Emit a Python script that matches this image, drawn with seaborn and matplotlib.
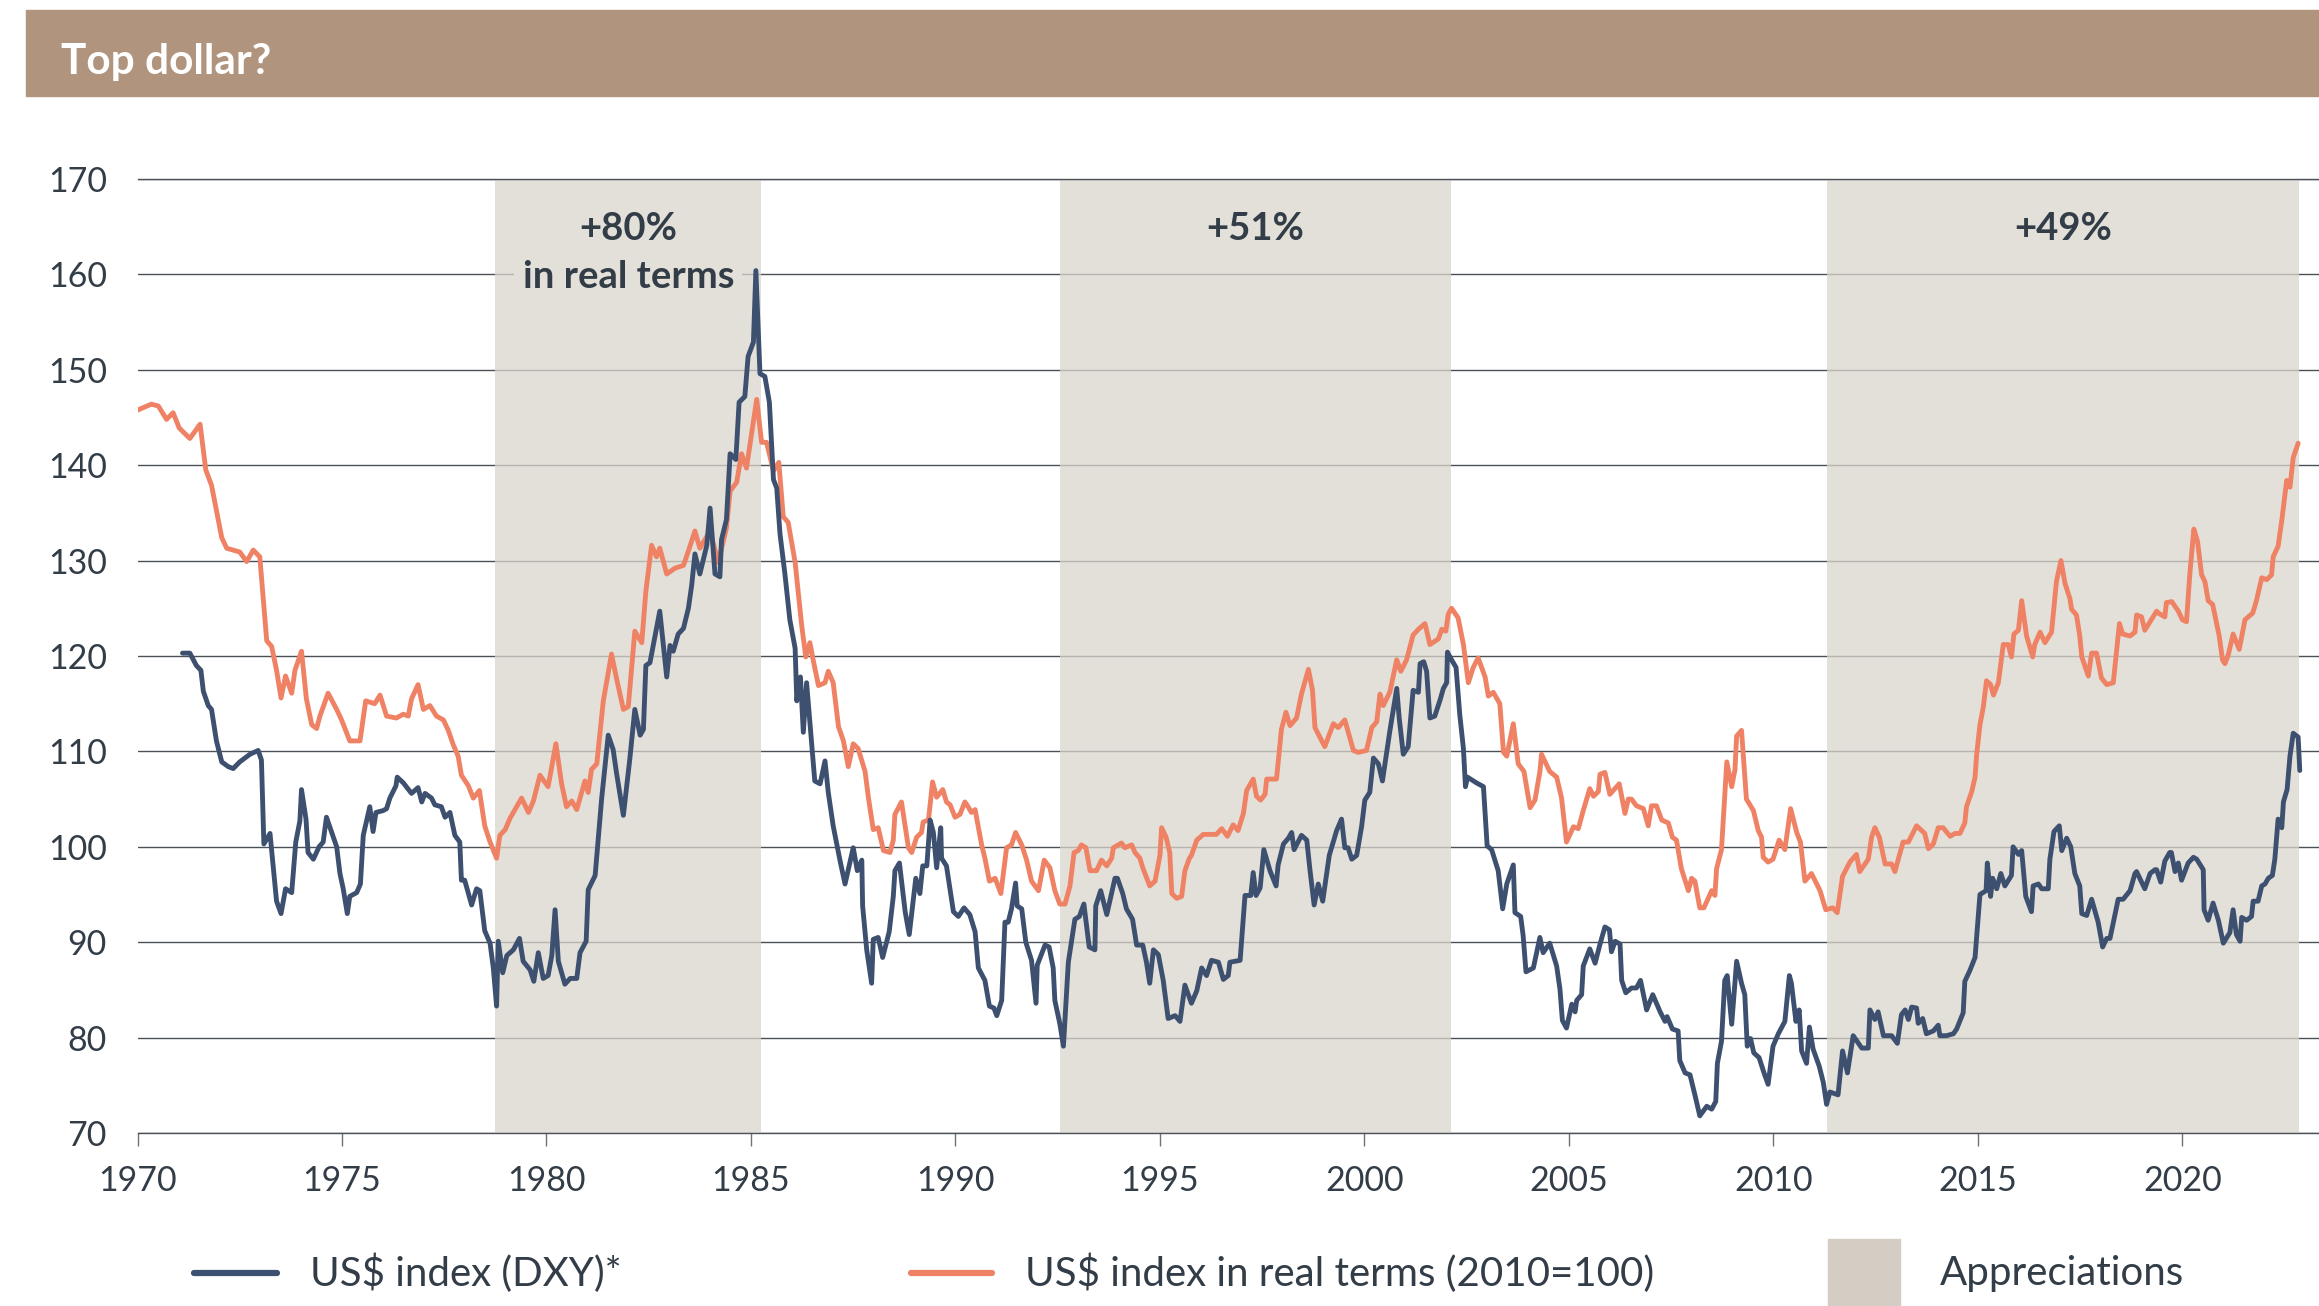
import numpy as np
import pandas as pd
import matplotlib.pyplot as plt
import seaborn as sns
from matplotlib.lines import Line2D
from matplotlib.patches import Rectangle

# US$ index (DXY)
dxy_year = [
    1971.10, 1971.28, 1971.44, 1971.55, 1971.61, 1971.73, 1971.81, 1971.93, 1972.06, 1972.22,
    1972.34, 1972.50, 1972.75, 1972.95, 1973.03, 1973.09, 1973.24, 1973.40, 1973.51, 1973.62,
    1973.77, 1973.87, 1973.97, 1974.01, 1974.12, 1974.17, 1974.30, 1974.44, 1974.54, 1974.62,
    1974.87, 1974.95, 1975.03, 1975.13, 1975.19, 1975.36, 1975.45, 1975.52, 1975.68, 1975.76,
    1975.83, 1976.01, 1976.09, 1976.17, 1976.32, 1976.35, 1976.50, 1976.70, 1976.86, 1976.95,
    1977.03, 1977.19, 1977.27, 1977.43, 1977.52, 1977.64, 1977.76, 1977.88, 1977.92, 1978.00,
    1978.17, 1978.29, 1978.37, 1978.49, 1978.62, 1978.70, 1978.78,
    1978.82, 1978.93, 1979.03, 1979.19, 1979.34, 1979.43, 1979.60, 1979.69, 1979.80, 1979.92,
    1980.04, 1980.13, 1980.21, 1980.29, 1980.45, 1980.58, 1980.74, 1980.82, 1980.97, 1981.02,
    1981.19, 1981.35, 1981.51, 1981.63, 1981.71, 1981.88, 1982.04, 1982.16, 1982.29, 1982.37,
    1982.43, 1982.53, 1982.77, 1982.94, 1983.02, 1983.10, 1983.22, 1983.35, 1983.47, 1983.55,
    1983.63, 1983.75, 1983.92, 1984.00, 1984.12, 1984.24, 1984.28, 1984.40, 1984.49, 1984.63,
    1984.71, 1984.85, 1984.93, 1985.06, 1985.12, 1985.22, 1985.34, 1985.45, 1985.55, 1985.63,
    1985.71, 1985.83, 1985.95, 1986.08, 1986.12, 1986.21, 1986.28, 1986.36, 1986.56, 1986.69,
    1986.81, 1986.89, 1987.01, 1987.18, 1987.30, 1987.38,
    1987.50, 1987.60, 1987.71, 1987.73, 1987.83, 1987.95, 1987.99, 1988.11, 1988.22, 1988.38,
    1988.48, 1988.52, 1988.63, 1988.77, 1988.87, 1989.03, 1989.13, 1989.20, 1989.30, 1989.38,
    1989.46, 1989.54, 1989.64, 1989.66, 1989.78, 1989.95, 1990.07, 1990.21, 1990.35, 1990.48,
    1990.56, 1990.72, 1990.83, 1990.94, 1991.01, 1991.13, 1991.21, 1991.29, 1991.37, 1991.47,
    1991.51, 1991.62, 1991.72, 1991.86, 1991.97, 1992.00, 1992.19, 1992.29, 1992.39, 1992.43,
    1992.55, 1992.64, 1992.76, 1992.92, 1993.03, 1993.14, 1993.21, 1993.27, 1993.41, 1993.43,
    1993.55, 1993.70, 1993.90, 1993.96, 1994.09, 1994.18, 1994.33, 1994.43, 1994.58, 1994.67,
    1994.75, 1994.84, 1994.96, 1995.08, 1995.20, 1995.37, 1995.49, 1995.61, 1995.77, 1995.90,
    1996.02, 1996.14, 1996.26, 1996.43,
    1996.55, 1996.67, 1996.71, 1996.96, 1997.08, 1997.22, 1997.28, 1997.35, 1997.45, 1997.54,
    1997.69, 1997.84, 1997.89, 1998.02, 1998.14, 1998.22, 1998.28, 1998.46, 1998.59, 1998.67,
    1998.77, 1998.87, 1998.98, 1999.14, 1999.32, 1999.44, 1999.52, 1999.60, 1999.69, 1999.81,
    1999.93, 2000.01, 2000.13, 2000.22, 2000.34, 2000.44, 2000.62, 2000.79, 2000.85, 2000.95,
    2001.07, 2001.19, 2001.32, 2001.36, 2001.45, 2001.52, 2001.60, 2001.72, 2001.85, 2001.93,
    2002.01, 2002.03, 2002.13, 2002.24, 2002.33, 2002.42, 2002.47, 2002.52, 2002.74, 2002.91,
    2003.00, 2003.11, 2003.27, 2003.38, 2003.48, 2003.64, 2003.68, 2003.82, 2003.88, 2003.95,
    2004.13, 2004.29, 2004.37, 2004.53, 2004.70, 2004.78, 2004.84, 2004.94, 2005.07, 2005.15,
    2005.19,
    2005.31, 2005.35, 2005.51, 2005.64, 2005.76, 2005.88, 2005.99, 2006.04, 2006.13, 2006.25,
    2006.29, 2006.39, 2006.53, 2006.65, 2006.75, 2006.90, 2007.05, 2007.23, 2007.35, 2007.40,
    2007.53, 2007.67, 2007.71, 2007.84, 2007.96, 2008.08, 2008.20, 2008.37, 2008.49, 2008.59,
    2008.63, 2008.73, 2008.81, 2008.87, 2008.98, 2009.10, 2009.22, 2009.30, 2009.36, 2009.44,
    2009.52, 2009.65, 2009.77, 2009.87, 2009.99, 2010.12, 2010.28, 2010.39, 2010.44, 2010.55,
    2010.63, 2010.69, 2010.81, 2010.88, 2010.97, 2011.12, 2011.22, 2011.30, 2011.38, 2011.58,
    2011.69, 2011.81, 2011.95, 2012.16, 2012.32, 2012.36, 2012.48, 2012.56, 2012.69, 2012.89,
    2013.03, 2013.13, 2013.22, 2013.30, 2013.38,
    2013.50, 2013.54, 2013.65, 2013.74, 2013.91, 2014.03, 2014.07, 2014.23, 2014.40, 2014.48,
    2014.64, 2014.68, 2014.80, 2014.93, 2015.05, 2015.20, 2015.23, 2015.31, 2015.36, 2015.46,
    2015.56, 2015.66, 2015.82, 2015.86, 2015.99, 2016.07, 2016.17, 2016.31, 2016.35, 2016.48,
    2016.56, 2016.72, 2016.76, 2016.86, 2016.99, 2017.05, 2017.17, 2017.27, 2017.37, 2017.49,
    2017.54, 2017.66, 2017.78, 2017.94, 2018.05, 2018.15, 2018.23, 2018.43, 2018.55, 2018.72,
    2018.84, 2018.88, 2019.08, 2019.21, 2019.33, 2019.37, 2019.47, 2019.57, 2019.69, 2019.73,
    2019.82, 2019.90, 2019.98, 2020.14, 2020.27, 2020.35, 2020.51, 2020.53, 2020.63, 2020.75,
    2020.88, 2021.00, 2021.16, 2021.24, 2021.32, 2021.41, 2021.45, 2021.57, 2021.69, 2021.73,
    2021.85, 2021.94, 2022.02, 2022.10, 2022.20, 2022.26, 2022.34, 2022.43, 2022.47, 2022.56,
    2022.63, 2022.71, 2022.83, 2022.87,
]
dxy_value = [
    120.3, 120.3, 119.0, 118.5, 116.3, 114.8, 114.4, 111.1, 108.9, 108.4,
    108.2, 108.9, 109.7, 110.1, 109.1, 100.3, 101.4, 94.3, 93.0, 95.6,
    95.2, 100.5, 102.7, 106.0, 102.9, 99.4, 98.7, 100.0, 100.5, 103.1,
    100.0, 97.2, 95.6, 93.0, 94.8, 95.2, 96.1, 101.2, 104.2, 101.6,
    103.6, 103.8, 104.0, 105.1, 106.4, 107.3, 106.7, 105.6, 106.2, 104.7,
    105.6, 105.1, 104.4, 104.2, 103.1, 103.6, 101.2, 100.5, 96.5, 96.5,
    93.9, 95.6, 95.4, 91.2, 89.9, 87.3, 83.3,
    90.1, 86.8, 88.6, 89.2, 90.4, 88.0, 87.1, 85.9, 88.9, 86.2,
    86.5, 88.6, 93.4, 88.0, 85.6, 86.2, 86.2, 88.9, 90.1, 95.5,
    97.0, 105.1, 111.7, 110.2, 107.8, 103.3, 109.3, 114.4, 111.7, 112.3,
    119.0, 119.3, 124.7, 117.8, 121.1, 120.5, 122.3, 122.9, 125.0, 127.4,
    130.7, 128.6, 131.6, 135.5, 128.6, 128.3, 132.2, 134.3, 141.2, 140.6,
    146.6, 147.2, 151.4, 152.9, 160.4, 149.6, 149.3, 146.6, 138.5, 137.6,
    132.8, 128.6, 123.8, 120.8, 115.3, 117.8, 112.0, 117.2, 106.9, 106.6,
    109.0, 105.7, 102.2, 98.5, 96.1, 97.6,
    99.9, 97.5, 98.6, 93.8, 89.2, 85.7, 90.3, 90.5, 88.4, 91.1,
    94.8, 97.5, 98.3, 93.2, 90.8, 96.7, 95.1, 98.0, 98.0, 102.8,
    101.5, 97.8, 102.0, 98.8, 98.0, 93.2, 92.7, 93.6, 92.9, 91.1,
    87.3, 86.0, 83.3, 83.1, 82.3, 83.9, 92.1, 92.1, 93.5, 96.2,
    93.8, 93.5, 90.0, 88.1, 83.6, 87.6, 89.7, 89.5, 87.3, 83.9,
    81.5, 79.1, 87.9, 92.4, 92.7, 94.0, 91.6, 89.5, 89.2, 93.8,
    95.4, 92.9, 96.7, 96.7, 95.1, 93.5, 92.4, 89.7, 89.7, 87.9,
    85.7, 89.2, 88.7, 86.0, 82.0, 82.3, 81.7, 85.5, 83.6, 84.9,
    87.3, 86.5, 88.1, 87.9,
    86.1, 86.5, 87.9, 88.1, 94.9, 94.9, 97.3, 94.9, 95.7, 99.7,
    97.5, 95.9, 98.1, 100.3, 100.9, 101.5, 99.7, 101.2, 100.7, 97.5,
    93.9, 96.1, 94.3, 99.1, 101.7, 102.9, 99.9, 99.9, 98.7, 99.1,
    102.1, 104.9, 105.7, 109.3, 108.7, 106.9, 112.1, 116.6, 113.5, 109.7,
    110.5, 116.4, 116.2, 119.2, 119.4, 118.4, 113.5, 113.7, 115.4, 116.6,
    117.2, 120.4, 119.6, 118.8, 113.9, 110.3, 106.3, 107.3, 106.7, 106.3,
    100.1, 99.7, 97.5, 93.5, 96.1, 98.1, 93.1, 92.7, 90.7, 86.9,
    87.3, 90.5, 88.9, 89.9, 87.5, 85.1, 81.8, 81.0, 83.5, 82.7,
    83.9,
    84.5, 87.5, 89.3, 87.8, 89.8, 91.6, 91.3, 89.0, 90.1, 89.8,
    86.0, 84.7, 85.2, 85.2, 86.0, 82.9, 84.5, 82.7, 81.7, 82.2,
    80.9, 80.7, 77.6, 76.3, 76.1, 74.0, 71.8, 72.8, 72.5, 73.3,
    77.3, 79.6, 86.0, 86.5, 81.4, 88.0, 85.7, 84.5, 79.1, 79.9,
    78.4, 77.9, 76.3, 75.1, 79.1, 80.4, 81.7, 86.5, 85.7, 81.7,
    82.9, 78.6, 77.3, 81.1, 78.8, 77.0, 75.3, 73.0, 74.3, 74.0,
    78.6, 76.3, 80.2, 78.9, 78.9, 82.9, 81.9, 82.7, 80.2, 80.2,
    79.4, 82.4, 82.9, 81.9, 83.2,
    83.1, 81.5, 82.0, 80.4, 80.7, 81.3, 80.2, 80.2, 80.4, 80.9,
    82.6, 85.9, 87.0, 88.4, 95.0, 95.4, 98.3, 94.8, 96.7, 95.6,
    97.2, 95.9, 97.0, 100.0, 99.2, 99.6, 94.8, 93.2, 95.9, 96.1,
    95.6, 95.6, 98.7, 101.6, 102.2, 99.6, 100.9, 100.0, 97.2, 95.9,
    93.0, 92.8, 94.5, 92.1, 89.5, 90.4, 90.4, 94.5, 94.5, 95.4,
    97.2, 97.4, 95.6, 97.2, 97.6, 97.6, 96.3, 98.5, 99.4, 99.4,
    97.4, 98.3, 96.5, 98.3, 98.9, 98.7, 97.6, 93.4, 92.3, 94.1,
    92.3, 89.9, 91.0, 93.4, 90.8, 90.1, 92.6, 92.3, 92.7, 94.3,
    94.3, 95.9, 96.1, 96.7, 97.0, 98.7, 102.9, 102.0, 104.7, 106.0,
    109.5, 111.9, 111.5, 108.0,
]

# US$ index in real terms (2010=100)
real_year = [
    1969.96, 1970.34, 1970.51, 1970.71, 1970.87, 1971.02, 1971.28, 1971.53, 1971.67, 1971.81,
    1972.06, 1972.18, 1972.50, 1972.67, 1972.83, 1972.99, 1973.16, 1973.28, 1973.40, 1973.51,
    1973.62, 1973.77, 1973.85, 1974.01, 1974.13, 1974.26, 1974.38, 1974.46, 1974.66, 1974.87,
    1974.99, 1975.19, 1975.44, 1975.58, 1975.80, 1975.93, 1976.09, 1976.33, 1976.50, 1976.62,
    1976.70, 1976.86, 1976.99, 1977.15, 1977.31, 1977.48, 1977.60, 1977.72, 1977.84, 1977.92,
    1978.09, 1978.21, 1978.36, 1978.49, 1978.62, 1978.78,
    1978.86, 1978.99, 1979.11, 1979.27, 1979.39, 1979.56, 1979.68, 1979.84, 1980.04, 1980.23,
    1980.37, 1980.49, 1980.62, 1980.74, 1980.94, 1981.02, 1981.10, 1981.23, 1981.39, 1981.59,
    1981.72, 1981.88, 1982.00, 1982.16, 1982.33, 1982.43, 1982.57, 1982.69, 1982.77, 1982.94,
    1983.14, 1983.35, 1983.47, 1983.63, 1983.75, 1984.00, 1984.20, 1984.40, 1984.49, 1984.65,
    1984.77, 1984.89, 1985.14, 1985.26, 1985.38, 1985.55, 1985.68, 1985.79, 1985.91, 1986.08,
    1986.24, 1986.34, 1986.44, 1986.52, 1986.65, 1986.81, 1986.89, 1987.01, 1987.14, 1987.26,
    1987.38,
    1987.50, 1987.62, 1987.79, 1987.87, 1987.99, 1988.11, 1988.24, 1988.40, 1988.48, 1988.52,
    1988.68, 1988.85, 1988.93, 1989.05, 1989.17, 1989.21, 1989.34, 1989.44, 1989.54, 1989.69,
    1989.78, 1989.87, 1989.99, 1990.11, 1990.23, 1990.31, 1990.39, 1990.48, 1990.64, 1990.72,
    1990.83, 1990.97, 1991.11, 1991.25, 1991.37, 1991.47, 1991.62, 1991.74, 1991.86, 1992.03,
    1992.17, 1992.31, 1992.43, 1992.55, 1992.68, 1992.80, 1992.90, 1993.00, 1993.08, 1993.19,
    1993.29, 1993.45, 1993.57, 1993.70, 1993.82, 1993.86, 1994.06, 1994.14, 1994.31, 1994.39,
    1994.51, 1994.58, 1994.75, 1994.88, 1995.00, 1995.04, 1995.15, 1995.24, 1995.29, 1995.41,
    1995.53, 1995.61, 1995.72, 1995.77, 1995.90, 1996.06, 1996.38,
    1996.51, 1996.65, 1996.79, 1996.91, 1997.04, 1997.12, 1997.28, 1997.36, 1997.46, 1997.57,
    1997.61, 1997.85, 1997.97, 1998.08, 1998.18, 1998.34, 1998.46, 1998.63, 1998.73, 1998.79,
    1999.03, 1999.24, 1999.36, 1999.52, 1999.73, 1999.85, 2000.05, 2000.18, 2000.30, 2000.38,
    2000.46, 2000.62, 2000.79, 2000.89, 2001.03, 2001.19, 2001.32, 2001.48, 2001.60, 2001.81,
    2001.89, 2001.99, 2002.05, 2002.13, 2002.29, 2002.42, 2002.54, 2002.66, 2002.78, 2002.95,
    2003.03, 2003.15, 2003.31, 2003.40, 2003.48, 2003.64, 2003.76, 2003.90, 2004.05, 2004.17,
    2004.29, 2004.33, 2004.53, 2004.70, 2004.82, 2004.94, 2005.11, 2005.23,
    2005.35, 2005.51, 2005.60, 2005.72, 2005.76, 2005.88, 2006.00, 2006.23, 2006.37, 2006.45,
    2006.53, 2006.65, 2006.82, 2006.94, 2007.02, 2007.14, 2007.27, 2007.43, 2007.53, 2007.63,
    2007.75, 2007.92, 2008.00, 2008.08, 2008.20, 2008.30, 2008.49, 2008.57, 2008.61, 2008.73,
    2008.86, 2008.98, 2009.06, 2009.10, 2009.22, 2009.34, 2009.51, 2009.63, 2009.71, 2009.75,
    2009.87, 2009.99, 2010.14, 2010.28, 2010.42, 2010.57, 2010.66, 2010.77, 2010.93, 2011.14,
    2011.28, 2011.45, 2011.56, 2011.69, 2011.87, 2012.03, 2012.11, 2012.32, 2012.40, 2012.48,
    2012.59, 2012.73, 2012.89, 2012.97, 2013.17, 2013.30,
    2013.50, 2013.70, 2013.79, 2013.91, 2014.03, 2014.15, 2014.32, 2014.44, 2014.56, 2014.68,
    2014.72, 2014.85, 2014.93, 2014.97, 2015.05, 2015.13, 2015.21, 2015.31, 2015.38, 2015.50,
    2015.62, 2015.74, 2015.82, 2015.88, 2015.99, 2016.07, 2016.19, 2016.34, 2016.39, 2016.52,
    2016.64, 2016.80, 2016.92, 2017.03, 2017.13, 2017.25, 2017.29, 2017.41, 2017.49, 2017.54,
    2017.70, 2017.78, 2017.90, 2018.02, 2018.15, 2018.31, 2018.46, 2018.54, 2018.72, 2018.84,
    2018.88, 2019.00, 2019.08, 2019.21, 2019.37, 2019.41, 2019.57, 2019.61, 2019.74, 2019.90,
    2020.00, 2020.10, 2020.18, 2020.28, 2020.37, 2020.47, 2020.55, 2020.63, 2020.74, 2020.90,
    2020.98, 2021.04, 2021.12, 2021.24, 2021.39, 2021.53, 2021.61, 2021.72, 2021.81, 2021.94,
    2022.06, 2022.18, 2022.22, 2022.34, 2022.43, 2022.55, 2022.63, 2022.71, 2022.83,
]
real_value = [
    145.7, 146.4, 146.2, 144.8, 145.5, 143.9, 142.8, 144.3, 139.5, 137.9,
    132.4, 131.3, 130.9, 129.9, 131.1, 130.4, 121.6, 121.0, 118.5, 115.6,
    117.9, 116.1, 118.5, 120.5, 115.5, 112.8, 112.4, 113.7, 116.1, 114.4,
    113.3, 111.1, 111.1, 115.3, 115.0, 115.9, 113.7, 113.5, 113.9, 113.7,
    115.5, 117.0, 114.4, 114.8, 113.7, 113.3, 112.2, 110.7, 109.5, 107.5,
    106.4, 105.1, 105.9, 102.2, 100.5, 98.8,
    101.2, 101.8, 103.0, 104.2, 105.1, 103.6, 104.8, 107.5, 106.3, 110.8,
    106.6, 104.2, 104.8, 103.9, 106.9, 105.7, 108.1, 108.7, 115.3, 120.2,
    117.5, 114.4, 114.7, 122.6, 121.4, 126.8, 131.6, 130.4, 131.3, 128.6,
    129.2, 129.5, 131.0, 133.1, 131.3, 133.1, 129.8, 133.4, 137.3, 138.2,
    141.2, 139.7, 146.9, 142.4, 142.4, 139.4, 140.3, 134.6, 134.0, 129.8,
    123.2, 119.9, 121.4, 119.6, 116.9, 117.2, 118.4, 117.2, 112.6, 111.1,
    108.4,
    110.8, 110.3, 107.9, 105.2, 101.8, 102.0, 99.6, 99.4, 100.7, 103.4,
    104.7, 99.9, 99.4, 101.0, 101.5, 102.6, 102.8, 106.8, 105.2, 106.0,
    104.7, 104.4, 103.1, 103.4, 104.7, 104.2, 103.6, 103.9, 100.2, 98.8,
    96.4, 96.7, 95.1, 99.9, 100.2, 101.5, 100.2, 98.6, 96.4, 95.4,
    98.6, 97.8, 95.4, 94.0, 94.0, 95.9, 99.4, 99.6, 100.2, 99.9,
    97.5, 97.5, 98.6, 98.0, 98.8, 99.9, 100.4, 99.9, 100.2, 99.4,
    98.8, 97.8, 95.9, 96.4, 99.1, 102.0, 101.0, 99.4, 95.1, 94.6,
    94.8, 97.5, 98.8, 99.1, 100.7, 101.3, 101.3,
    101.9, 101.1, 102.3, 101.7, 103.5, 105.9, 107.1, 105.3, 104.9, 105.5,
    107.1, 107.1, 112.3, 114.1, 112.7, 113.5, 116.0, 118.6, 116.4, 112.5,
    110.5, 112.9, 112.5, 113.3, 110.1, 109.9, 110.1, 112.5, 113.1, 116.0,
    114.8, 116.2, 119.6, 118.4, 119.6, 122.2, 122.8, 123.4, 121.2, 121.8,
    122.8, 122.6, 124.4, 125.0, 124.0, 121.2, 117.2, 118.8, 119.8, 117.8,
    115.8, 116.2, 115.0, 109.9, 109.5, 112.9, 108.7, 107.9, 104.1, 104.9,
    107.9, 109.7, 107.9, 107.3, 105.1, 100.5, 102.1, 101.9,
    103.8, 106.1, 105.3, 105.8, 107.6, 107.8, 105.5, 106.6, 103.5, 105.0,
    105.0, 104.3, 104.0, 102.2, 104.3, 104.3, 102.8, 102.5, 101.0, 100.7,
    97.7, 95.4, 96.7, 96.4, 93.6, 93.6, 95.4, 94.9, 97.7, 99.7,
    108.9, 106.3, 108.1, 111.6, 112.2, 105.0, 103.8, 101.7, 101.0, 98.9,
    98.4, 98.7, 100.7, 99.7, 104.0, 101.5, 100.5, 96.4, 97.2, 95.4,
    93.4, 93.6, 93.1, 96.9, 98.4, 99.2, 97.4, 98.7, 101.0, 102.0,
    101.0, 98.2, 98.2, 97.4, 100.5, 100.5,
    102.2, 101.4, 99.8, 100.3, 102.0, 102.0, 101.1, 101.4, 101.4, 102.5,
    104.2, 105.8, 107.3, 109.7, 112.8, 114.6, 117.4, 117.0, 115.9, 117.2,
    121.2, 121.2, 119.9, 122.3, 122.7, 125.8, 122.1, 119.9, 121.2, 122.5,
    121.4, 122.5, 127.8, 130.0, 127.6, 126.0, 124.9, 124.3, 122.1, 119.9,
    117.9, 120.3, 120.3, 117.7, 117.0, 117.2, 123.4, 122.3, 122.1, 122.5,
    124.3, 124.1, 122.7, 123.6, 124.7, 124.5, 124.1, 125.6, 125.7, 124.7,
    123.8, 123.6, 128.5, 133.3, 132.0, 128.5, 127.8, 125.8, 125.4, 122.1,
    119.6, 119.2, 120.1, 122.3, 120.7, 123.8, 124.1, 124.5, 125.8, 128.2,
    128.0, 128.5, 130.4, 131.5, 134.2, 138.4, 137.7, 140.8, 142.3,
]

# periods of dollar appreciation and their labels
appr_start = [1978.75, 1992.56, 2011.32]
appr_end = [1985.25, 2002.12, 2022.86]
appr_label = ["+80%\nin real terms", "+51%", "+49%"]

x_ticks = list(range(1970, 2021, 5))
y_ticks = list(range(70, 171, 10))

dxy_name = "US$ index (DXY)*"
real_name = "US$ index in real terms (2010=100)"

blue = "#3d5070"
orange = "#ef8264"
text_col = "#333d47"
grid_col = "#4b5157"

df = pd.concat([
    pd.DataFrame({"year": real_year, "value": real_value, "series": real_name}),
    pd.DataFrame({"year": dxy_year, "value": dxy_value, "series": dxy_name}),
])

sns.set_theme(style="white")
plt.rcParams["font.family"] = ["Lato", "DejaVu Sans"]

fig = plt.figure(figsize=(23.19, 13.06), dpi=100)
ax = fig.add_axes([137.5 / 2319, 1 - 1133 / 1306, 1 - 137.5 / 2319, (1133 - 179) / 1306])

# header band
fig.patches.append(Rectangle((26 / 2319, 1 - 96 / 1306), 1, 86 / 1306,
                             transform=fig.transFigure, color="#b0947e", zorder=0))
fig.text(61 / 2319, 1 - 74 / 1306, "Top dollar?", color="white", fontsize=30.5,
         fontweight="bold", va="baseline", ha="left")

for s, e in zip(appr_start, appr_end):
    ax.axvspan(s, e, ymin=0, ymax=1, color="#d9d6cc", alpha=0.75, lw=0, zorder=1)

sns.lineplot(data=df, x="year", y="value", hue="series", hue_order=[real_name, dxy_name],
             palette={real_name: orange, dxy_name: blue}, estimator=None, sort=False,
             lw=3.5, ax=ax, legend=False, zorder=3)

for s, e, lab in zip(appr_start, appr_end, appr_label):
    lines = lab.split("\n")
    ax.text((s + e) / 2, 164.8, lines[0], ha="center", va="center", fontsize=27.5,
            fontweight="bold", color=text_col, zorder=4)
    if len(lines) > 1:
        ax.text((s + e) / 2, 159.7, lines[1], ha="center", va="center", fontsize=27.5,
                fontweight="bold", color=text_col, zorder=4,
                bbox=dict(boxstyle="square,pad=0.22", fc="#e3e0d9", ec="none"))

ax.set_xlim(1970, 2023.34)
ax.set_ylim(70, 170)
ax.set_xticks(x_ticks)
ax.set_yticks(y_ticks)
ax.set_xlabel("")
ax.set_ylabel("")
ax.grid(axis="y", color=grid_col, lw=1.0)
ax.grid(axis="x", visible=False)
ax.set_axisbelow(True)
for side in ["left", "right"]:
    ax.spines[side].set_visible(False)
ax.spines["top"].set_color(grid_col)
ax.spines["top"].set_linewidth(1.0)
ax.spines["bottom"].set_color(grid_col)
ax.spines["bottom"].set_linewidth(1.0)
ax.tick_params(axis="x", bottom=True, length=9, width=1.0, color="#6e7378", pad=14,
               labelsize=24.5, labelcolor=text_col, direction="out")
ax.tick_params(axis="y", left=False, length=0, pad=22, labelsize=24.5, labelcolor=text_col)

# legend row along the bottom
ly = 1 - 1273 / 1306
fig.lines.append(Line2D([194 / 2319, 277 / 2319], [ly, ly], transform=fig.transFigure,
                        color=blue, lw=4.5, solid_capstyle="round"))
fig.text(310 / 2319, ly, dxy_name, fontsize=29, color=text_col, va="center", ha="left")
fig.lines.append(Line2D([911 / 2319, 992 / 2319], [ly, ly], transform=fig.transFigure,
                        color=orange, lw=4.5, solid_capstyle="round"))
fig.text(1025 / 2319, ly, real_name, fontsize=29, color=text_col, va="center", ha="left")
fig.patches.append(Rectangle((1828 / 2319, 0), 72 / 2319, 67 / 1306,
                             transform=fig.transFigure, color="#d4cdc3"))
fig.text(1940 / 2319, ly, "Appreciations", fontsize=29, color=text_col, va="center", ha="left")

fig.savefig("out.png", dpi=100, facecolor="white")
